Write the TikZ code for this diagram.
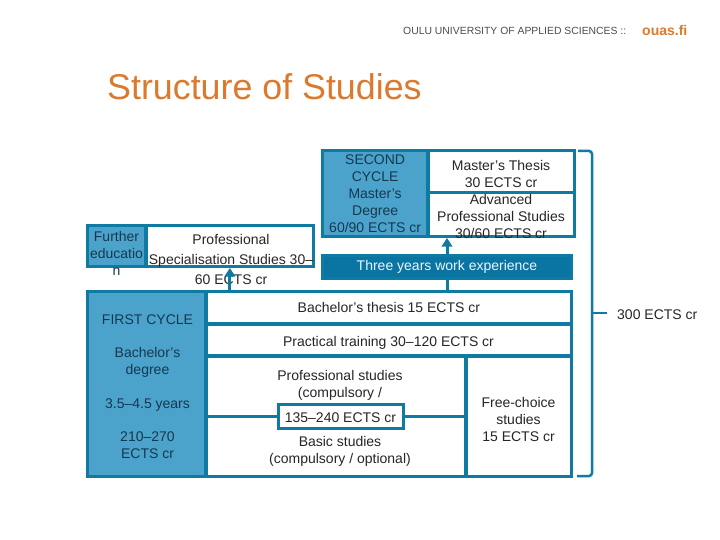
\documentclass[tikz,border=0pt]{standalone}
\usepackage{fontspec}
\setmainfont{Liberation Sans}
\usetikzlibrary{arrows.meta, positioning}
\definecolor{ouasline}{HTML}{0F7BA3}
\definecolor{ouasfill}{HTML}{4BA3CB}
\definecolor{ouasdark}{HTML}{0A74A3}
\definecolor{ouastext}{HTML}{16384F}
\definecolor{ouasorange}{HTML}{DB7A2E}
\tikzset{
    base/.style={draw=ouasline, line width=3pt, anchor=north west, align=center, inner sep=0pt,
        font=\fontsize{14}{17}\selectfont, text=black!85},
    bluebox/.style={base, fill=ouasfill, text=ouastext},
    whitebox/.style={base, fill=white},
    plain/.style={align=center, inner sep=0pt, font=\fontsize{14}{17}\selectfont, text=black!85},
    link/.style={draw=ouasline, line width=3pt},
    uparrow/.style={link, -{Triangle[length=8.5pt, width=10.5pt]}},
    bracket/.style={draw=ouasline, line width=2.5pt, rounded corners=3pt}
}
\begin{document}
\begin{tikzpicture}[x=1pt, y=-1pt]
    \useasboundingbox (0,0) rectangle (720,540);

    % header
    \node[anchor=west, inner sep=0pt, font=\fontsize{10.4}{12}\selectfont, text=black!70] (oulu) at (403,31) {OULU UNIVERSITY OF APPLIED SCIENCES ::};
    \node[anchor=west, inner sep=0pt, font=\bfseries\fontsize{14}{16}\selectfont, text=ouasorange] (ouas) at (642,30) {ouas.fi};
    \node[anchor=west, inner sep=0pt, font=\fontsize{35.8}{42}\selectfont, text=ouasorange] (title) at (107,87) {Structure of Studies};

    % further education
    \node[whitebox, minimum width=167.25pt, minimum height=41pt] (spec) at (144.75,224) {};
    \node[bluebox, minimum width=58.25pt, minimum height=41pt] (further) at (86,224) {};
    \node[plain, font=\fontsize{14}{20}\selectfont] (spectext) at (231,259)
        {Professional\\Specialisation Studies 30--\\60 ECTS cr};
    \node[plain, text=ouastext] (furthertext) at (116.5,253) {Further\\educatio\\n};

    % second cycle
    \node[whitebox, minimum width=146.25pt, minimum height=41.75pt] (thesis) at (426.75,149) {};
    \node[whitebox, minimum width=146.25pt, minimum height=43.75pt] (advanced) at (426.75,191.25) {};
    \node[bluebox, minimum width=105.25pt, minimum height=86pt] (second) at (321,149)
        {SECOND\\CYCLE\\Master's\\Degree\\60/90 ECTS cr};
    \node[plain] (thesistext) at (501,174) {Master's Thesis\\30 ECTS cr};
    \node[plain] (advancedtext) at (501,216.5) {Advanced\\Professional Studies\\30/60 ECTS cr};

    \node[base, fill=ouasdark, text=white!90!ouasfill, minimum width=249pt, minimum height=22.5pt] (work) at (321,254)
        {Three years work experience};

    % first cycle
    \node[bluebox, minimum width=118.25pt, minimum height=184.5pt] (first) at (86,290) {};
    \node[plain, text=ouastext] (firsttext) at (147.5,387)
        {FIRST CYCLE\\[16pt]Bachelor's\\degree\\[17pt]3.5--4.5 years\\[16pt]210--270\\ECTS cr};
    \node[whitebox, minimum width=365.25pt, minimum height=32.25pt] (bthesis) at (204.75,290)
        {Bachelor's thesis 15 ECTS cr};
    \node[whitebox, minimum width=365.25pt, minimum height=31.5pt] (training) at (204.75,322.75) {};
    \node[plain] (trainingtext) at (388.5,343) {Practical training 30--120 ECTS cr};
    \node[whitebox, minimum width=259.25pt, minimum height=119.75pt] (studies) at (204.75,354.75) {};
    \node[whitebox, minimum width=105.5pt, minimum height=119.75pt] (free) at (464.5,354.75) {};
    \node[plain] (freetext) at (518.5,419.5) {Free-choice\\studies\\15 ECTS cr};
    \node[whitebox, minimum width=124.5pt, minimum height=24pt] (range) at (277,403) {};
    \node[plain] (rangetext) at (340.5,417.5) {135--240 ECTS cr};
    \node[plain] (prof) at (340,385) {Professional studies\\(compulsory /};
    \node[plain] (basic) at (340,451.5) {Basic studies\\(compulsory / optional)};

    \draw[link] (studies.west |- range.west) -- (range.west);
    \draw[link] (range.east) -- (studies.east |- range.east);

    % arrows
    \draw[uparrow] (first.north -| spec.south) -- (spec.south);
    \draw[uparrow] (work.north) -- (second.south -| work.north);
    \draw[link] (bthesis.north -| work.south) -- (work.south);

    % bracket
    \coordinate (brtop) at (578,151);
    \coordinate (brbot) at (577,476);
    \coordinate (brtip) at (607,313);
    \draw[bracket] (brtop) -- (592,151) -- (592,476) -- (brbot);
    \draw[bracket] (592,313) -- (brtip);
    \node[plain, anchor=west] (total) at (617,315) {300 ECTS cr};
\end{tikzpicture}
\end{document}
